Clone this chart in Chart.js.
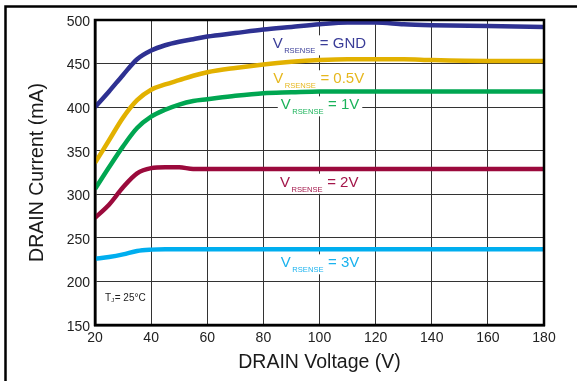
<!DOCTYPE html>
<html>
<head>
<meta charset="utf-8">
<script src="https://cdn.jsdelivr.net/npm/chart.js@4.4.1/dist/chart.umd.min.js"></script>
<style>
  html, body { margin: 0; padding: 0; background: #fff; }
</style>
</head>
<body>
<canvas id="mainChart" width="577" height="381"></canvas>
<script>
// drain voltage (V) sample points, shared by every curve
const voltage = [20, 25, 30, 35, 40, 45, 50, 55, 60, 70, 80, 90, 100, 110, 120, 130, 140, 160, 180];

// drain current (mA) for each RSENSE bias
const currentGnd = [400, 418, 437, 455, 465, 471, 475, 478, 481, 485, 489, 492, 495, 497, 497, 495, 494, 493, 492];
const current05V = [336, 362, 388, 408, 420, 426, 431, 436, 440, 445, 449, 452, 454, 455, 455, 455, 454, 453, 453];
const current1V  = [306, 331, 355, 376, 389, 397, 403, 407, 409, 413, 416, 417, 418, 418, 418, 418, 418, 418, 418];
const current2V  = [273, 288, 308, 324, 330, 331, 331, 329, 329, 329, 329, 329, 329, 329, 329, 329, 329, 329, 329];
const current3V  = [226, 228, 231, 235, 236.5, 237, 237, 237, 237, 237, 237, 237, 237, 237, 237, 237, 237, 237, 237];

const seriesNames = ['GND', '0.5V', '1V', '2V', '3V'];
const xTicks = [20, 40, 60, 80, 100, 120, 140, 160, 180];
const yTicks = [150, 200, 250, 300, 350, 400, 450, 500];

const colors = ['#2e3192', '#e2b100', '#00a651', '#9b0a3c', '#00aeef'];
const labelColors = ['#3a3d98', '#e6b71e', '#1bb35a', '#a3164a', '#1ab2ee'];

// where each "V RSENSE = ..." label sits, in volts / mA (left edge, baseline)
const labelAnchors = [
    { x: 83.3, y: 467.5 },
    { x: 83.5, y: 427.4 },
    { x: 86.2, y: 397.5 },
    { x: 85.9, y: 308.7 },
    { x: 86.2, y: 216.2 }
];
const tjAnchor = { x: 23.6, y: 178 };

const FONT = '"Liberation Sans", Arial, Helvetica, sans-serif';
const series = [currentGnd, current05V, current1V, current2V, current3V];

const curveLabels = {
    id: 'curveLabels',
    beforeDraw(chart) {
        // outer frame: top and left edges only
        const c = chart.ctx;
        c.save();
        c.strokeStyle = '#000';
        c.lineWidth = 2.5;
        c.beginPath();
        c.moveTo(577, 6.5);
        c.lineTo(5.5, 6.5);
        c.lineTo(5.5, 381);
        c.stroke();
        c.restore();
    },
    beforeDatasetsDraw(chart) {
        const c = chart.ctx;
        const xs = chart.scales.x, ys = chart.scales.y;
        c.save();
        c.textBaseline = 'alphabetic';
        seriesNames.forEach((name, i) => {
            const x0 = xs.getPixelForValue(labelAnchors[i].x);
            const y0 = ys.getPixelForValue(labelAnchors[i].y);
            c.font = '15px ' + FONT;
            const wV = c.measureText('V').width;
            c.font = '7.6px ' + FONT;
            const wSub = c.measureText('RSENSE').width;
            c.font = '15px ' + FONT;
            const tail = '= ' + name;
            const wTail = c.measureText(tail).width;
            const total = wV + 1.5 + wSub + 4.5 + wTail;
            c.fillStyle = '#fff';
            c.fillRect(x0 - 3, y0 - 13, total + 6, 20);
            c.fillStyle = labelColors[i];
            c.fillText('V', x0, y0);
            c.font = '7.6px ' + FONT;
            c.fillText('RSENSE', x0 + wV + 1.5, y0 + 5);
            c.font = '15px ' + FONT;
            c.fillText(tail, x0 + wV + 1.5 + wSub + 4.5, y0);
        });

        // junction temperature note
        const tx = xs.getPixelForValue(tjAnchor.x);
        const ty = ys.getPixelForValue(tjAnchor.y);
        c.fillStyle = '#222';
        c.font = '10px ' + FONT;
        c.fillText('T', tx, ty);
        const wT = c.measureText('T').width;
        c.font = '6px ' + FONT;
        c.fillText('J', tx + wT, ty + 1);
        const wJ = c.measureText('J').width;
        c.font = '10px ' + FONT;
        c.fillText('= 25°C', tx + wT + wJ + 0.5, ty);
        c.restore();
    },
    afterDatasetsDraw(chart) {
        const { left, top, right, bottom } = chart.chartArea;
        const c = chart.ctx;
        c.save();
        c.strokeStyle = '#000';
        c.lineWidth = 2.5;
        c.strokeRect(left, top, right - left, bottom - top);
        c.restore();
    }
};

const ctx = document.getElementById('mainChart');

new Chart(ctx, {
    type: 'line',
    data: {
        datasets: series.map((vals, i) => ({
            label: seriesNames[i],
            data: voltage.map((v, k) => ({ x: v, y: vals[k] })),
            borderColor: colors[i],
            borderWidth: 4.5,
            pointRadius: 0,
            cubicInterpolationMode: 'monotone',
            borderJoinStyle: 'round',
            fill: false
        }))
    },
    options: {
        responsive: false,
        animation: false,
        devicePixelRatio: 1,
        layout: { padding: { left: 0, top: 20, right: 33, bottom: 0 } },
        plugins: {
            legend: { display: false },
            tooltip: { enabled: false }
        },
        scales: {
            x: {
                type: 'linear',
                min: 20,
                max: 180,
                afterBuildTicks: s => { s.ticks = xTicks.map(v => ({ value: v })); },
                afterFit: s => { s.height = 56; },
                ticks: { color: '#222', font: { family: FONT, size: 14 }, padding: 5 },
                grid: { color: '#333', lineWidth: 1, drawTicks: false },
                border: { color: '#000', width: 2.5 },
                title: {
                    display: true,
                    text: 'DRAIN Voltage (V)',
                    color: '#1a1a1a',
                    font: { family: FONT, size: 19.5 },
                    padding: { top: 0, bottom: 7 }
                }
            },
            y: {
                min: 150,
                max: 500,
                afterBuildTicks: s => { s.ticks = yTicks.map(v => ({ value: v })); },
                afterFit: s => { s.width = 95; },
                ticks: { color: '#222', font: { family: FONT, size: 14 }, padding: 5, labelOffset: 2 },
                grid: { color: '#333', lineWidth: 1, drawTicks: false },
                border: { color: '#000', width: 2.5 },
                title: {
                    display: true,
                    text: 'DRAIN Current (mA)',
                    color: '#1a1a1a',
                    font: { family: FONT, size: 19.5 },
                    padding: { top: 26, bottom: 0 }
                }
            }
        }
    },
    plugins: [curveLabels]
});
</script>
</body>
</html>
